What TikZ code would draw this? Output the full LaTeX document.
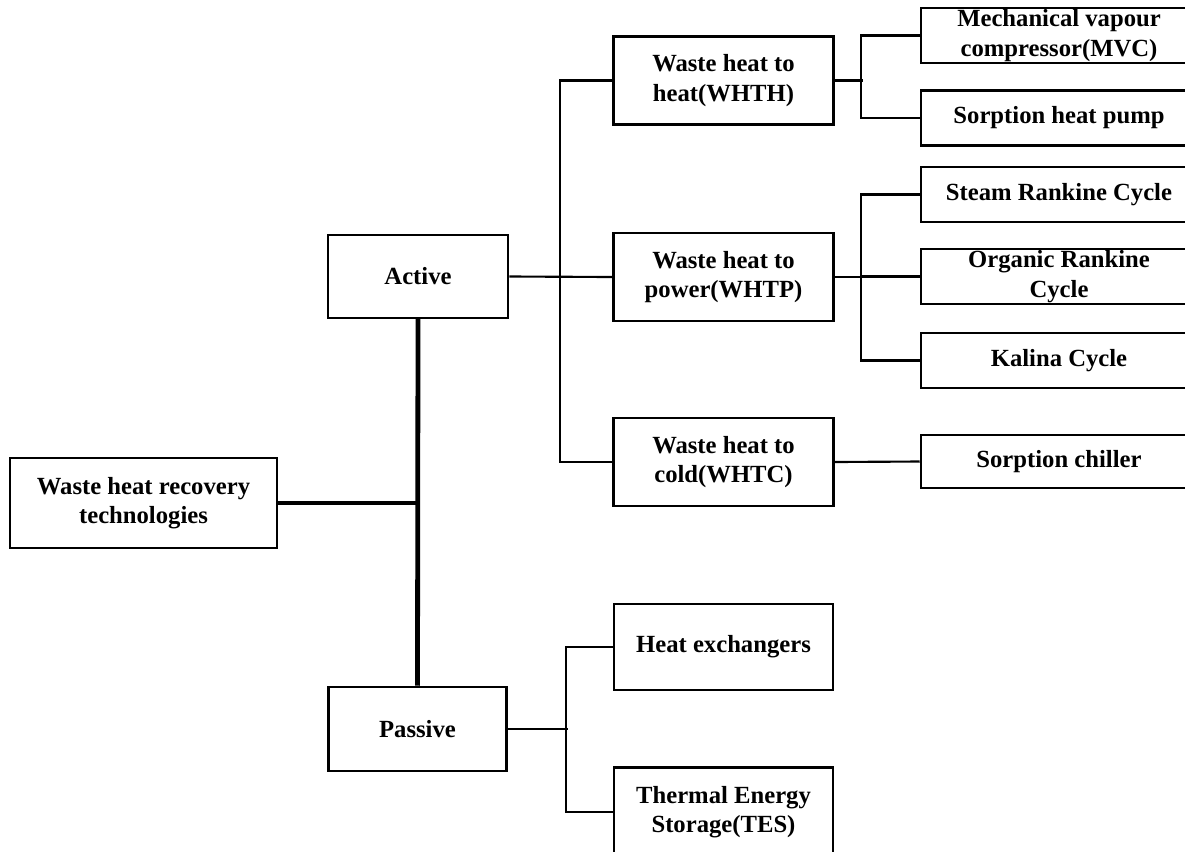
\documentclass[tikz,border=0pt]{standalone}
\usepackage{fontspec}
\setmainfont{Liberation Serif}
\begin{document}
\begin{tikzpicture}[
		x=0.75pt, y=-0.75pt,
		box/.style = {draw, line width=1.9pt, inner sep=0pt, align=center,
				font=\fontsize{18.5}{22}\selectfont\bfseries},
		mid/.style = {box, minimum width=165pt, minimum height=66pt},
		leaf/.style = {box, minimum width=207pt, minimum height=41pt},
		link/.style = {line width=1.6pt},
		trunk/.style = {line width=3.6pt},
	]
	\path[use as bounding box] (0,0) rectangle (1185,851);
	\node[box, minimum width=200pt, minimum height=67.5pt] (root) at (143.5,503) {Waste heat recovery\\technologies};
	\node[box, minimum width=135pt, minimum height=62pt] (active) at (418,276.5) {Active};
	\node[box, minimum width=133.5pt, minimum height=63pt] (passive) at (417.5,729) {Passive};
	\node[mid] (whth) at (723.5,80.5) {Waste heat to\\heat(WHTH)};
	\node[mid] (whtp) at (723.5,277) {Waste heat to\\power(WHTP)};
	\node[mid] (whtc) at (723.5,462) {Waste heat to\\cold(WHTC)};
	\node[mid, minimum width=164pt, minimum height=64.5pt] (he) at (723.5,647) {Heat exchangers};
	\node[mid, minimum width=164pt, minimum height=67pt] (tes) at (723.5,812) {Thermal Energy\\Storage(TES)};
	\node[leaf] (mvc) at (1059,35.5) {Mechanical vapour\\compressor(MVC)};
	\node[leaf] (shp) at (1059,118) {Sorption heat pump};
	\node[leaf] (src) at (1059,194.5) {Steam Rankine Cycle};
	\node[leaf] (orc) at (1059,276.5) {Organic Rankine\\Cycle};
	\node[leaf] (kc) at (1059,360.5) {Kalina Cycle};
	\node[leaf, minimum height=40pt] (sc) at (1059,461.5) {Sorption chiller};
	\draw[trunk] (active.south) -- (passive.north);
	\draw[line width=3pt] (root.east) -- (root.east -| active.south);
	\draw[link] (active.east) -- (whtp.west);
	\draw[link] (whth.west) -- ++(-52,0) |- (whtc.west);
	\draw[link] (whth.east) -- ++(28,0);
	\draw[link] (mvc.west) -- ++(-59,0) |- (shp.west);
	\draw[link] (whtp.east) -- ++(28,0);
	\draw[link] (src.west) -- ++(-59,0) |- (kc.west);
	\draw[link] (orc.west) -- ++(-59,0);
	\draw[link] (whtc.east) -- (sc.west);
	\draw[link] (passive.east) -- ++(60,0);
	\draw[link] (he.west) -- ++(-47,0) |- (tes.west);
\end{tikzpicture}
\end{document}
